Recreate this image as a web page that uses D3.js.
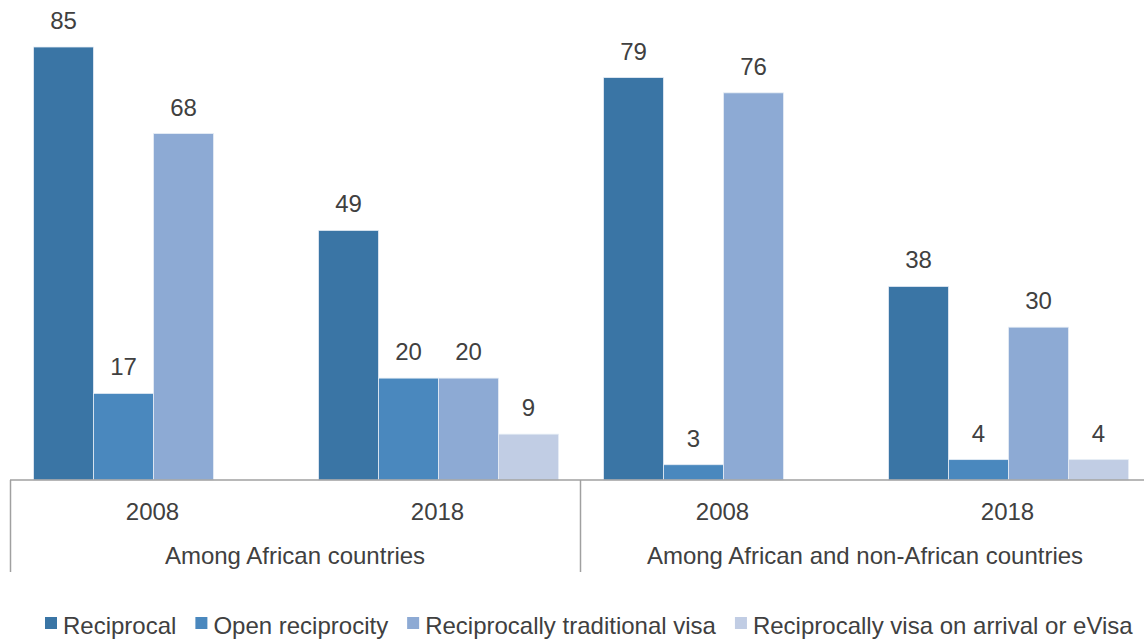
<!DOCTYPE html>
<html>
<head>
<meta charset="utf-8">
<script src="https://cdn.jsdelivr.net/npm/d3@7"></script>
<style>
  html, body { margin: 0; padding: 0; background: #fff; }
  svg { display: block; font-family: "Liberation Sans", Arial, sans-serif; }
</style>
</head>
<body>
<svg id="chart" width="1144" height="644"></svg>
<script>
// Category slots along the bottom axis, with their outer groups
const years = ["2008", "2018", "2008", "2018"];
const regions = ["Among African countries", "Among African and non-African countries"];
const seriesNames = ["Reciprocal", "Open reciprocity", "Reciprocally traditional visa", "Reciprocally visa on arrival or eVisa"];
const seriesColors = ["#3a75a5", "#4a88be", "#8daad4", "#c1cde4"];

// One array per series, one value per slot (null = no bar)
const reciprocal = [85, 49, 79, 38];
const openReciprocity = [17, 20, 3, 4];
const traditionalVisa = [68, 20, 76, 30];
const visaOnArrival = [null, 9, null, 4];
const seriesValues = [reciprocal, openReciprocity, traditionalVisa, visaOnArrival];

const svg = d3.select("#chart");
const baseY = 480;
const textColor = "#404040";
const lineColor = "#a0a0a0";
const fontSize = 24;

const x = d3.scaleBand().domain(d3.range(years.length)).range([10, 1150]).padding(0);
const xs = d3.scaleBand().domain(d3.range(seriesNames.length))
  .range([23.5, x.bandwidth() - 21.5]).padding(0);
const y = d3.scaleLinear().domain([0, 85]).range([baseY, 47]);

// Bars with value labels
seriesValues.forEach((vals, si) => {
  const g = svg.append("g");
  const data = vals.map((v, i) => ({ v, i })).filter(d => d.v !== null);
  g.selectAll("rect").data(data).join("rect")
    .attr("x", d => x(d.i) + xs(si))
    .attr("y", d => y(d.v))
    .attr("width", xs.bandwidth())
    .attr("height", d => baseY - y(d.v))
    .attr("fill", seriesColors[si])
    .attr("stroke", "#e6edf5")
    .attr("stroke-width", 0.8);
  g.selectAll("text").data(data).join("text")
    .attr("x", d => x(d.i) + xs(si) + xs.bandwidth() / 2)
    .attr("y", d => y(d.v) - 18)
    .attr("text-anchor", "middle")
    .attr("font-size", fontSize)
    .attr("fill", textColor)
    .text(d => d.v);
});

// Baseline and category dividers
svg.append("line")
  .attr("x1", 10).attr("x2", 1144).attr("y1", baseY).attr("y2", baseY)
  .attr("stroke", lineColor).attr("stroke-width", 1.5);
[0, 2].forEach(i => {
  svg.append("line")
    .attr("x1", x(i) + 0.5).attr("x2", x(i) + 0.5)
    .attr("y1", baseY).attr("y2", 572)
    .attr("stroke", lineColor).attr("stroke-width", 1.5);
});

// Year labels
svg.append("g").selectAll("text").data(years).join("text")
  .attr("x", (d, i) => x(i) + x.bandwidth() / 2)
  .attr("y", 520)
  .attr("text-anchor", "middle")
  .attr("font-size", fontSize)
  .attr("fill", textColor)
  .text(d => d);

// Region labels
svg.append("g").selectAll("text").data(regions).join("text")
  .attr("x", (d, i) => x(i * 2) + x.bandwidth())
  .attr("y", 564)
  .attr("text-anchor", "middle")
  .attr("font-size", fontSize)
  .attr("fill", textColor)
  .text(d => d);

// Legend
const legend = svg.append("g");
let lx = 45;
seriesNames.forEach((name, i) => {
  legend.append("rect")
    .attr("x", lx).attr("y", 617).attr("width", 12).attr("height", 12)
    .attr("fill", seriesColors[i]);
  const t = legend.append("text")
    .attr("x", lx + 18).attr("y", 634)
    .attr("font-size", fontSize)
    .attr("fill", textColor)
    .text(name);
  lx += 18 + t.node().getComputedTextLength() + 19;
});
</script>
</body>
</html>
